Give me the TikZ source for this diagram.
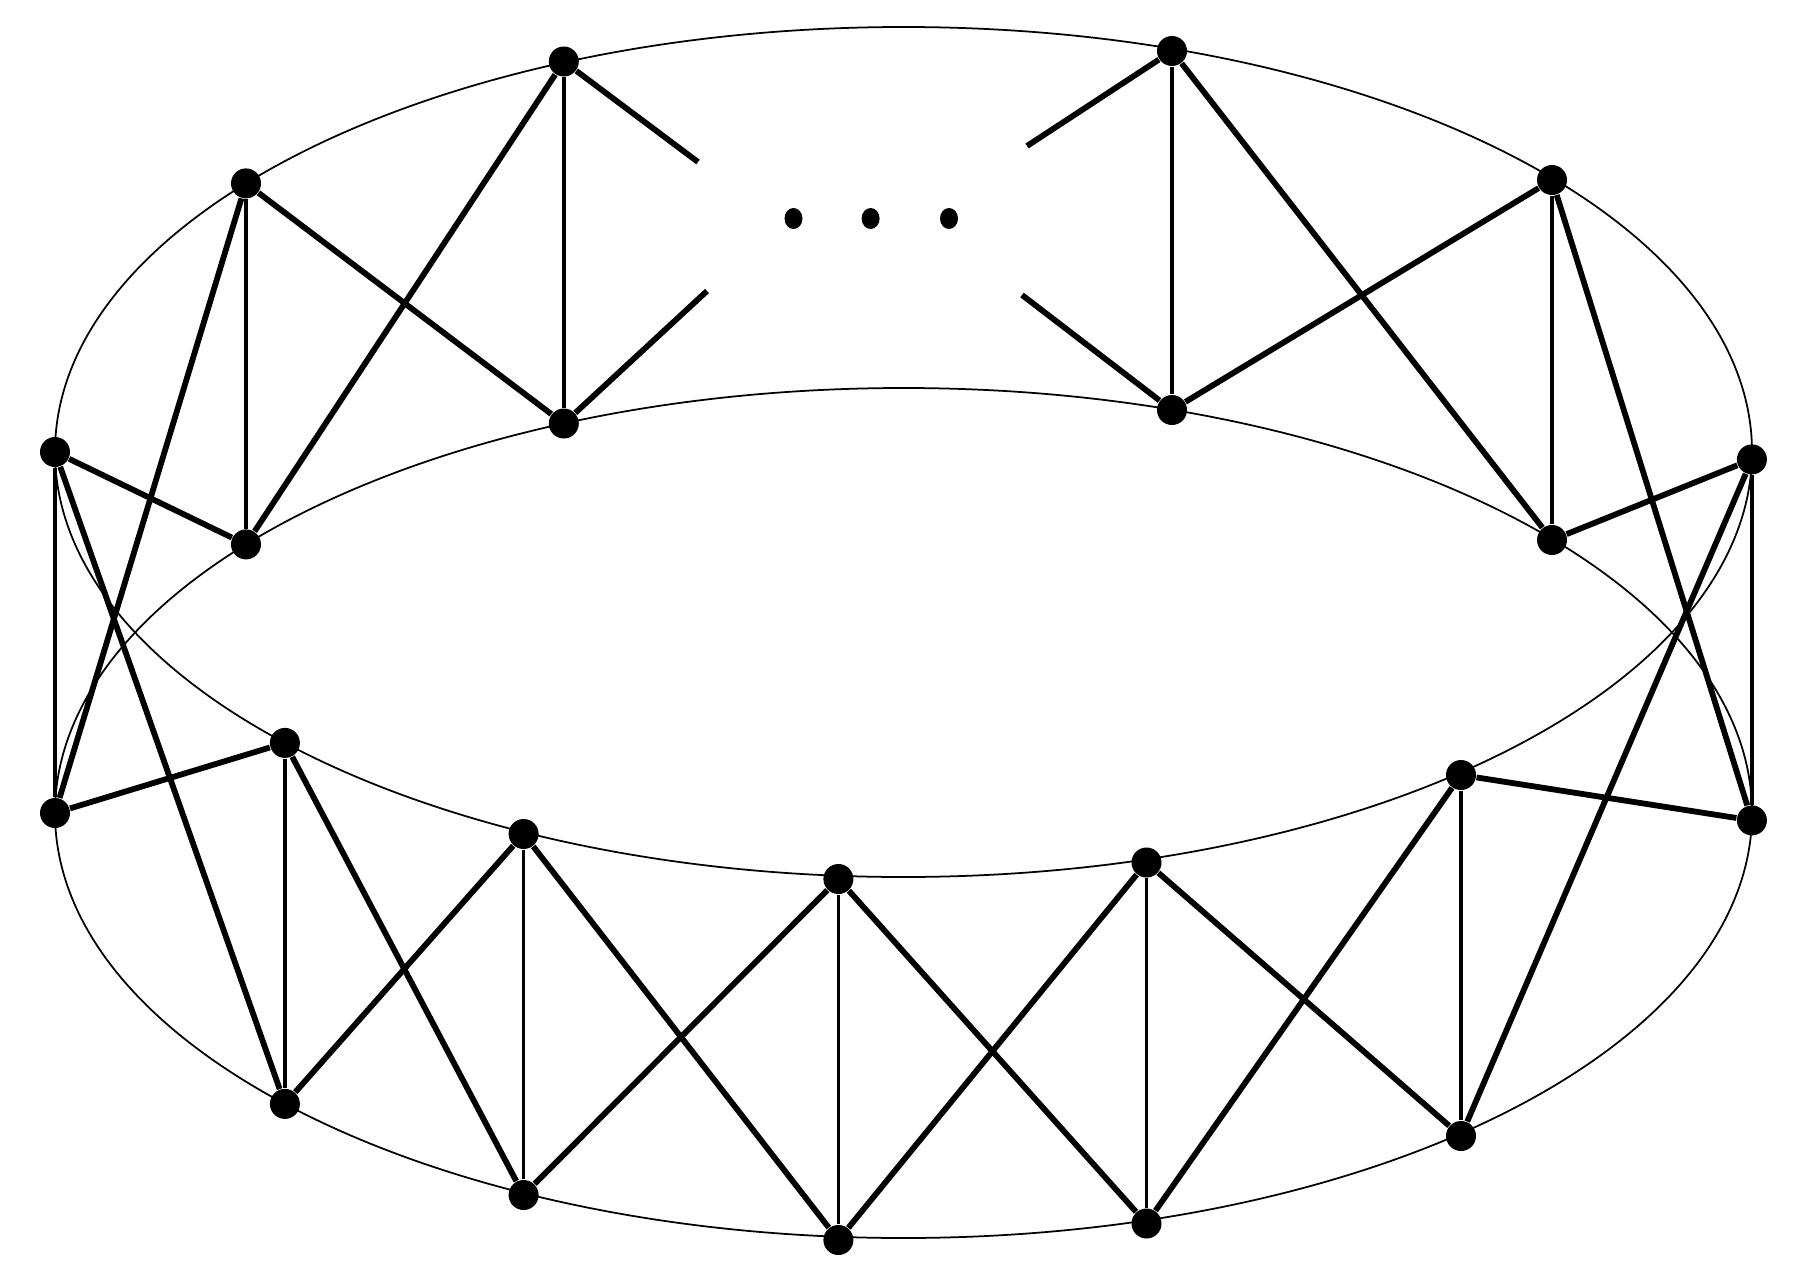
\documentclass[tikz,border=0pt]{standalone}
\usetikzlibrary{shapes.geometric}
\begin{document}
\begin{tikzpicture}[x=0.1mm,y=0.1mm,
  dot/.style={circle,fill=black,inner sep=0pt,minimum size=3.0mm},
  sdot/.style={ellipse,fill=black,inner sep=0pt,minimum width=1.8mm,minimum height=2.1mm},
  rim/.style={line width=0.5pt},
  rung/.style={line width=1.0pt},
  edge/.style={line width=1.65pt}]
\useasboundingbox (0,0) rectangle (1797,1282);
% rims of the band
\draw[rim] (903.5,830) ellipse [x radius=848.5, y radius=425];
\draw[rim] (903.5,469) ellipse [x radius=848.5, y radius=425];
% top ring vertices
\node[dot] (tA) at (563.8,1220.5) {};
\node[dot] (tB) at (246,1098.6) {};
\node[dot] (tC) at (55,830) {};
\node[dot] (tD) at (284.9,539.1) {};
\node[dot] (tE) at (523.6,448) {};
\node[dot] (tF) at (838.4,403) {};
\node[dot] (tG) at (1146.5,419.5) {};
\node[dot] (tH) at (1461,507) {};
\node[dot] (tI) at (1751.9,822.6) {};
\node[dot] (tJ) at (1552,1102) {};
\node[dot] (tK) at (1172,1231) {};
% bottom ring vertices
\node[dot] (bA) at (563.8,858.5) {};
\node[dot] (bB) at (246,737.6) {};
\node[dot] (bC) at (55,469) {};
\node[dot] (bD) at (284.9,178.1) {};
\node[dot] (bE) at (523.6,87) {};
\node[dot] (bF) at (838.4,42) {};
\node[dot] (bG) at (1146.5,58.5) {};
\node[dot] (bH) at (1461,146) {};
\node[dot] (bI) at (1751.9,461.6) {};
\node[dot] (bJ) at (1552,742) {};
\node[dot] (bK) at (1172,872) {};
% ellipsis
\node[sdot] (d1) at (793.5,1063.5) {};
\node[sdot] (d2) at (870.6,1063.5) {};
\node[sdot] (d3) at (949,1063.5) {};
% stub ends
\coordinate (sAt) at (698,1120);
\coordinate (sAb) at (707,991);
\coordinate (sKt) at (1027,1136);
\coordinate (sKb) at (1022,987);
% rungs
\foreach \c in {A,B,C,D,E,F,G,H,I,J,K}
  \draw[rung] (t\c) -- (b\c);
% crossing edges between neighbouring columns
\foreach \p/\q in {A/B,B/C,C/D,D/E,E/F,F/G,G/H,H/I,I/J,J/K}{
  \draw[edge] (t\p) -- (b\q);
  \draw[edge] (b\p) -- (t\q);
}
% stubs towards the omitted part
\draw[edge] (tA) -- (sAt);
\draw[edge] (bA) -- (sAb);
\draw[edge] (tK) -- (sKt);
\draw[edge] (bK) -- (sKb);
\end{tikzpicture}
\end{document}
